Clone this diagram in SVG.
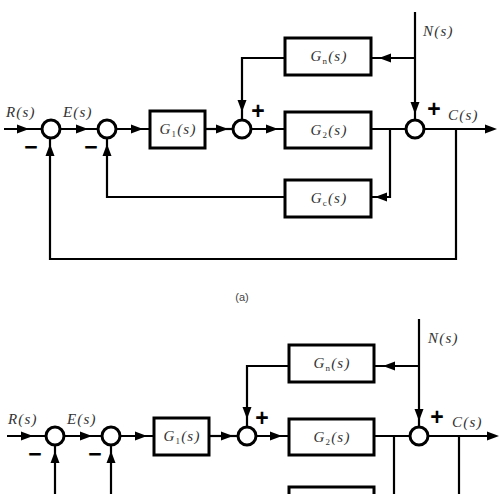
<svg xmlns="http://www.w3.org/2000/svg" xmlns:xlink="http://www.w3.org/1999/xlink" width="500" height="494" viewBox="0 0 500 494">
<style>
.ln{fill:none;stroke:#000;stroke-width:2.2}
.bx{fill:#fff;stroke:#000;stroke-width:3}
.sj{fill:#fff;stroke:#000;stroke-width:3}
.lb{font-family:"Liberation Serif","Times New Roman",serif;font-style:italic;font-size:15px;letter-spacing:1.2px;fill:#333}
.bl{font-family:"Liberation Serif","Times New Roman",serif;font-style:italic;font-size:15px;letter-spacing:1.2px;fill:#333;text-anchor:middle}
.sb{font-size:9px;font-style:normal}
.sg{font-family:"Liberation Sans",Arial,sans-serif;font-weight:bold;font-size:23px;fill:#000;text-anchor:middle}
.cap{font-family:"Liberation Sans",Arial,sans-serif;font-size:11px;fill:#444;text-anchor:middle}
.ah{fill:#000}
</style>
<defs>
<path id="ah" d="M0,0 L-12,-4.5 L-12,4.5 Z"/>
</defs>
<rect width="500" height="494" fill="#fff"/>

<!-- ========== Diagram (a) ========== -->
<g id="connectors-a">
<path class="ln" d="M4,129 H42"/>
<path class="ln" d="M60,129 H98"/>
<path class="ln" d="M116,129 H150"/>
<path class="ln" d="M205,129 H233"/>
<path class="ln" d="M251,129 H285"/>
<path class="ln" d="M371,129 H406"/>
<path class="ln" d="M424,129 H486"/>
<path class="ln" d="M415,12 V120"/>
<path class="ln" d="M415,58 H371"/>
<path class="ln" d="M285,58 H242 V120"/>
<path class="ln" d="M390,129 V197 H371"/>
<path class="ln" d="M285,197 H107 V138"/>
<path class="ln" d="M456,129 V259 H50 V138"/>
<g class="ah">
<use xlink:href="#ah" transform="translate(29,129)"/>
<use xlink:href="#ah" transform="translate(88,129)"/>
<use xlink:href="#ah" transform="translate(143,129)"/>
<use xlink:href="#ah" transform="translate(228,129)"/>
<use xlink:href="#ah" transform="translate(278,129)"/>
<use xlink:href="#ah" transform="translate(497,129)"/>
<use xlink:href="#ah" transform="translate(415,114) rotate(90)"/>
<use xlink:href="#ah" transform="translate(379,58) rotate(180)"/>
<use xlink:href="#ah" transform="translate(242,112) rotate(90)"/>
<use xlink:href="#ah" transform="translate(375,197) rotate(180)"/>
<use xlink:href="#ah" transform="translate(107,144) rotate(-90)"/>
<use xlink:href="#ah" transform="translate(50,144) rotate(-90)"/>
</g>
</g>

<g id="sum1-a"><circle class="sj" cx="51" cy="129" r="9"/><text class="sg" x="31" y="155">−</text></g>
<g id="sum2-a"><circle class="sj" cx="107" cy="129" r="9"/><text class="sg" x="91" y="155">−</text></g>
<g id="sum3-a"><circle class="sj" cx="242" cy="129" r="9"/><text class="sg" x="258" y="119">+</text></g>
<g id="sum4-a"><circle class="sj" cx="415" cy="129" r="9"/><text class="sg" x="434" y="117">+</text></g>

<g id="G1-a"><rect class="bx" x="150" y="111" width="55" height="37"/><text class="bl" x="178" y="134">G<tspan class="sb" dy="3">1</tspan><tspan dy="-3">(s)</tspan></text></g>
<g id="Gn-a"><rect class="bx" x="285" y="38" width="86" height="37"/><text class="bl" x="329" y="61">G<tspan class="sb" dy="3">n</tspan><tspan dy="-3">(s)</tspan></text></g>
<g id="G2-a"><rect class="bx" x="285" y="112" width="86" height="36"/><text class="bl" x="329" y="135">G<tspan class="sb" dy="3">2</tspan><tspan dy="-3">(s)</tspan></text></g>
<g id="Gc-a"><rect class="bx" x="285" y="180" width="86" height="37"/><text class="bl" x="329" y="203">G<tspan class="sb" dy="3">c</tspan><tspan dy="-3">(s)</tspan></text></g>

<g id="labels-a">
<text class="lb" x="6" y="117">R(s)</text>
<text class="lb" x="63" y="117">E(s)</text>
<text class="lb" x="423" y="36">N(s)</text>
<text class="lb" x="448" y="120">C(s)</text>
</g>

<text class="cap" x="242" y="301">(a)</text>

<!-- ========== Diagram (b) (cut off) ========== -->
<g id="connectors-b">
<path class="ln" d="M7,436 H46"/>
<path class="ln" d="M64,436 H102"/>
<path class="ln" d="M120,436 H154"/>
<path class="ln" d="M209,436 H238"/>
<path class="ln" d="M256,436 H289"/>
<path class="ln" d="M374,436 H410"/>
<path class="ln" d="M428,436 H489"/>
<path class="ln" d="M419,319 V427"/>
<path class="ln" d="M419,366 H374"/>
<path class="ln" d="M289,366 H247 V427"/>
<path class="ln" d="M394,436 V496"/>
<path class="ln" d="M459,436 V496"/>
<path class="ln" d="M55,496 V445"/>
<path class="ln" d="M111,496 V445"/>
<g class="ah">
<use xlink:href="#ah" transform="translate(33,436)"/>
<use xlink:href="#ah" transform="translate(92,436)"/>
<use xlink:href="#ah" transform="translate(147,436)"/>
<use xlink:href="#ah" transform="translate(233,436)"/>
<use xlink:href="#ah" transform="translate(282,436)"/>
<use xlink:href="#ah" transform="translate(499,436)"/>
<use xlink:href="#ah" transform="translate(419,421) rotate(90)"/>
<use xlink:href="#ah" transform="translate(383,366) rotate(180)"/>
<use xlink:href="#ah" transform="translate(247,419) rotate(90)"/>
<use xlink:href="#ah" transform="translate(111,451) rotate(-90)"/>
<use xlink:href="#ah" transform="translate(55,451) rotate(-90)"/>
</g>
</g>

<g id="sum1-b"><circle class="sj" cx="55" cy="436" r="9"/><text class="sg" x="35" y="462">−</text></g>
<g id="sum2-b"><circle class="sj" cx="111" cy="436" r="9"/><text class="sg" x="95" y="462">−</text></g>
<g id="sum3-b"><circle class="sj" cx="247" cy="436" r="9"/><text class="sg" x="262" y="426">+</text></g>
<g id="sum4-b"><circle class="sj" cx="419" cy="436" r="9"/><text class="sg" x="437" y="425">+</text></g>

<g id="G1-b"><rect class="bx" x="154" y="418" width="55" height="37"/><text class="bl" x="182" y="441">G<tspan class="sb" dy="3">1</tspan><tspan dy="-3">(s)</tspan></text></g>
<g id="Gn-b"><rect class="bx" x="289" y="345" width="85" height="37"/><text class="bl" x="332" y="368">G<tspan class="sb" dy="3">n</tspan><tspan dy="-3">(s)</tspan></text></g>
<g id="G2-b"><rect class="bx" x="289" y="419" width="85" height="36"/><text class="bl" x="332" y="442">G<tspan class="sb" dy="3">2</tspan><tspan dy="-3">(s)</tspan></text></g>
<g id="G3-b"><rect class="bx" x="289" y="487" width="85" height="20"/></g>

<g id="labels-b">
<text class="lb" x="8" y="424">R(s)</text>
<text class="lb" x="67" y="424">E(s)</text>
<text class="lb" x="428" y="343">N(s)</text>
<text class="lb" x="452" y="427">C(s)</text>
</g>
</svg>
